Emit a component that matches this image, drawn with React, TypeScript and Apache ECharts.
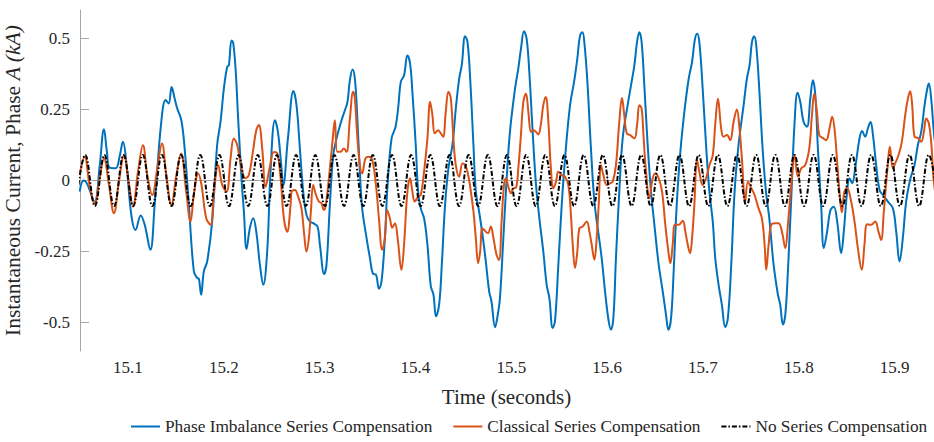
import React, { useEffect, useRef } from "react";
import * as echarts from "echarts";

const xTicks = [15.1, 15.2, 15.3, 15.4, 15.5, 15.6, 15.7, 15.8, 15.9];
const yTicks = [-0.5, -0.25, 0, 0.25, 0.5];

const seriesNames = [
  "Phase Imbalance Series Compensation",
  "Classical Series Compensation",
  "No Series Compensation",
];

const phaseImbalance: [number, number][] = [
  [15.0496, -0.039], [15.0538, 0.0], [15.0572, -0.01], [15.0652, -0.075], [15.0705, 0.05],
  [15.075, 0.18], [15.0781, 0.1], [15.0809, 0.045], [15.0872, 0.043], [15.0913, 0.084],
  [15.0948, 0.136], [15.0983, 0.066], [15.1035, -0.12], [15.108, -0.174], [15.1133, -0.123],
  [15.1175, -0.156], [15.1234, -0.244], [15.1279, -0.086], [15.1348, 0.206], [15.1394, 0.283],
  [15.1425, 0.271], [15.1456, 0.329], [15.1488, 0.288], [15.1515, 0.253], [15.1557, 0.212],
  [15.159, 0.12], [15.1636, -0.086], [15.1688, -0.32], [15.1723, -0.343], [15.174, -0.346],
  [15.1764, -0.402], [15.1792, -0.32], [15.1827, -0.285], [15.1879, -0.144], [15.1931, 0.125],
  [15.1966, 0.206], [15.2001, 0.323], [15.2036, 0.4], [15.2053, 0.405], [15.2081, 0.493],
  [15.2098, 0.485], [15.2123, 0.394], [15.215, 0.218], [15.2185, 0.008], [15.221, -0.109],
  [15.2238, -0.241], [15.2272, -0.168], [15.2307, -0.133], [15.2339, -0.18], [15.2377, -0.296],
  [15.2412, -0.367], [15.2453, -0.25], [15.2488, 0.031], [15.2534, 0.212], [15.2565, 0.171],
  [15.26, 0.054], [15.262, -0.016], [15.267, 0.15], [15.2727, 0.315], [15.2759, 0.265],
  [15.2794, 0.113], [15.2829, -0.039], [15.2863, -0.121], [15.2898, -0.144], [15.2933, -0.15],
  [15.2978, -0.162], [15.3003, -0.226], [15.3048, -0.329], [15.3072, -0.296], [15.3107, -0.086],
  [15.3142, 0.089], [15.3177, 0.148], [15.3229, 0.212], [15.3264, 0.247], [15.3291, 0.277],
  [15.3316, 0.353], [15.3344, 0.391], [15.3368, 0.358], [15.3392, 0.23], [15.342, 0.031],
  [15.3444, -0.098], [15.3479, -0.18], [15.3525, -0.273], [15.3559, -0.329], [15.3587, -0.331],
  [15.3619, -0.381], [15.3646, -0.355], [15.3681, -0.203], [15.3709, -0.016], [15.3751, 0.148],
  [15.3793, 0.19], [15.3821, 0.26], [15.3847, 0.347], [15.3881, 0.37], [15.3916, 0.44],
  [15.3944, 0.411], [15.3968, 0.312], [15.4003, 0.125], [15.4028, -0.039], [15.4055, -0.098],
  [15.409, -0.133], [15.4125, -0.226], [15.416, -0.372], [15.4188, -0.402], [15.4215, -0.478],
  [15.4247, -0.437], [15.4275, -0.296], [15.4309, -0.086], [15.4344, 0.043], [15.4386, 0.125],
  [15.4421, 0.253], [15.4456, 0.358], [15.4483, 0.405], [15.4518, 0.508], [15.4543, 0.487],
  [15.4571, 0.358], [15.4605, 0.125], [15.463, -0.039], [15.4664, -0.109], [15.4699, -0.19],
  [15.4734, -0.285], [15.4769, -0.39], [15.4793, -0.425], [15.4831, -0.516], [15.486, -0.47],
  [15.4882, -0.413], [15.4917, -0.203], [15.4952, 0.008], [15.4986, 0.171], [15.5039, 0.323],
  [15.5073, 0.394], [15.5101, 0.464], [15.5133, 0.525], [15.516, 0.499], [15.5188, 0.382],
  [15.5223, 0.171], [15.5258, -0.016], [15.5293, -0.133], [15.5334, -0.25], [15.5369, -0.367],
  [15.5397, -0.413], [15.5432, -0.519], [15.5456, -0.495], [15.5491, -0.296], [15.5526, -0.086],
  [15.5561, 0.078], [15.5613, 0.265], [15.5655, 0.347], [15.5689, 0.429], [15.5717, 0.51],
  [15.5742, 0.522], [15.5762, 0.487], [15.5794, 0.347], [15.5829, 0.125], [15.5867, -0.074],
  [15.5902, -0.168], [15.5943, -0.273], [15.5978, -0.39], [15.6016, -0.495], [15.604, -0.525],
  [15.6065, -0.484], [15.6092, -0.273], [15.6127, -0.039], [15.6162, 0.148], [15.6214, 0.265],
  [15.6249, 0.335], [15.6284, 0.405], [15.6312, 0.487], [15.6336, 0.522], [15.636, 0.487],
  [15.6388, 0.335], [15.6423, 0.125], [15.6458, -0.039], [15.6493, -0.156], [15.6538, -0.296],
  [15.658, -0.39], [15.6614, -0.472], [15.6639, -0.525], [15.6667, -0.484], [15.6694, -0.32],
  [15.6726, -0.086], [15.6761, 0.089], [15.6806, 0.242], [15.6851, 0.358], [15.6886, 0.417],
  [15.6914, 0.493], [15.6938, 0.516], [15.6962, 0.487], [15.6997, 0.323], [15.7032, 0.125],
  [15.7067, -0.039], [15.7102, -0.144], [15.7128, -0.273], [15.7163, -0.367], [15.7197, -0.437],
  [15.7232, -0.516], [15.726, -0.484], [15.7295, -0.296], [15.733, -0.039], [15.7371, 0.125],
  [15.7424, 0.265], [15.7458, 0.358], [15.7486, 0.405], [15.7511, 0.487], [15.7535, 0.508],
  [15.7556, 0.475], [15.7587, 0.323], [15.7622, 0.113], [15.7657, -0.039], [15.7692, -0.133],
  [15.7737, -0.296], [15.7782, -0.402], [15.7806, -0.437], [15.7834, -0.507], [15.7859, -0.472],
  [15.7886, -0.32], [15.7921, -0.063], [15.7956, 0.206], [15.7987, 0.309], [15.8015, 0.277],
  [15.805, 0.206], [15.8085, 0.189], [15.812, 0.288], [15.8147, 0.353], [15.8172, 0.3],
  [15.8198, 0.12], [15.8233, -0.086], [15.8261, -0.238], [15.8295, -0.18], [15.833, -0.104],
  [15.8365, -0.092], [15.84, -0.144], [15.8442, -0.256], [15.8469, -0.18], [15.8504, -0.039],
  [15.8529, 0.008], [15.8556, -0.01], [15.8588, 0.043], [15.8633, 0.148], [15.8661, 0.174],
  [15.8692, 0.154], [15.872, 0.183], [15.8748, 0.206], [15.8772, 0.165], [15.8807, 0.054],
  [15.8842, -0.033], [15.8877, -0.051], [15.8929, -0.074], [15.8981, -0.098], [15.9016, -0.18],
  [15.9051, -0.285], [15.9085, -0.203], [15.912, -0.074], [15.9165, 0.008], [15.9207, 0.054],
  [15.9242, 0.125], [15.9277, 0.171], [15.9312, 0.265], [15.934, 0.323], [15.9357, 0.341],
  [15.9381, 0.288], [15.9409, 0.171], [15.945, 0.05],
];

const classical: [number, number][] = [
  [15.0496, 0.02], [15.0548, 0.084], [15.06, -0.016], [15.0652, -0.082], [15.0705, 0.008],
  [15.075, 0.078], [15.0802, -0.016], [15.0854, -0.115], [15.0906, -0.004], [15.0959, 0.089],
  [15.1007, -0.004], [15.1053, -0.092], [15.1105, 0.031], [15.1157, 0.124], [15.1202, 0.019],
  [15.1254, -0.051], [15.1307, 0.043], [15.1355, 0.13], [15.1401, 0.019], [15.1453, -0.086],
  [15.1505, 0.019], [15.1554, 0.095], [15.1608, -0.039], [15.1653, -0.144], [15.1688, -0.051],
  [15.1733, 0.025], [15.1768, -0.016], [15.1817, -0.133], [15.1862, -0.156], [15.1897, -0.039],
  [15.1942, 0.054], [15.1984, -0.016], [15.2029, -0.039], [15.2071, 0.078], [15.2105, 0.148],
  [15.214, 0.125], [15.2185, 0.043], [15.2227, 0.008], [15.2262, 0.019], [15.2304, 0.101],
  [15.2339, 0.177], [15.2366, 0.195], [15.2401, 0.113], [15.2436, -0.022], [15.2478, 0.043],
  [15.2523, 0.1], [15.2558, 0.096], [15.2593, 0.008], [15.2627, -0.133], [15.2662, -0.18],
  [15.2697, -0.086], [15.2707, -0.039], [15.2742, -0.033], [15.2776, -0.057], [15.2811, -0.098],
  [15.2839, -0.19], [15.2863, -0.25], [15.2888, -0.203], [15.2909, -0.109], [15.2933, -0.016],
  [15.2957, -0.045], [15.2992, -0.074], [15.302, -0.08], [15.3044, -0.104], [15.3065, -0.086],
  [15.3097, 0.008], [15.3131, 0.125], [15.3159, 0.212], [15.3184, 0.101], [15.3218, 0.101],
  [15.3253, 0.113], [15.3281, 0.101], [15.3316, 0.218], [15.335, 0.312], [15.3368, 0.288],
  [15.3392, 0.16], [15.342, 0.054], [15.3444, 0.025], [15.3479, 0.078], [15.3514, 0.084],
  [15.3549, 0.072], [15.3584, -0.004], [15.3619, -0.133], [15.3653, -0.244], [15.3681, -0.203],
  [15.3705, -0.104], [15.3733, -0.133], [15.3758, -0.166], [15.3786, -0.15], [15.3814, -0.203],
  [15.3854, -0.314], [15.3881, -0.226], [15.3916, -0.039], [15.3944, 0.008], [15.3968, -0.039],
  [15.3993, -0.074], [15.4028, -0.057], [15.4055, -0.051], [15.409, 0.031], [15.4125, 0.148],
  [15.4153, 0.277], [15.4177, 0.23], [15.4202, 0.166], [15.4236, 0.177], [15.4264, 0.166],
  [15.4289, 0.154], [15.4316, 0.241], [15.4344, 0.312], [15.4369, 0.288], [15.4396, 0.148],
  [15.4421, 0.054], [15.4456, 0.013], [15.4491, 0.06], [15.4518, 0.054], [15.4543, 0.031],
  [15.4571, -0.022], [15.4605, -0.109], [15.463, -0.203], [15.4654, -0.291], [15.4675, -0.25],
  [15.4699, -0.168], [15.4734, -0.18], [15.4758, -0.185], [15.4786, -0.162], [15.4814, -0.203],
  [15.4845, -0.26], [15.4872, -0.28], [15.4899, -0.144], [15.4924, -0.016], [15.4945, 0.008],
  [15.4969, -0.022], [15.4997, -0.045], [15.5021, -0.027], [15.5049, -0.025], [15.5073, 0.043],
  [15.5098, 0.148], [15.5126, 0.277], [15.5153, 0.306], [15.5178, 0.242], [15.5206, 0.171],
  [15.523, 0.177], [15.5258, 0.171], [15.5282, 0.162], [15.5307, 0.195], [15.5334, 0.265],
  [15.5359, 0.294], [15.5387, 0.206], [15.5411, 0.054], [15.5439, -0.027], [15.5467, -0.004],
  [15.5491, 0.031], [15.5526, 0.019], [15.5561, 0.013], [15.5595, -0.016], [15.562, -0.109],
  [15.5641, -0.226], [15.5665, -0.308], [15.5689, -0.25], [15.571, -0.168], [15.5745, -0.162],
  [15.5787, -0.144], [15.5815, -0.18], [15.5839, -0.226], [15.5867, -0.279], [15.5891, -0.203],
  [15.5912, -0.086], [15.5936, 0.054], [15.5961, 0.019], [15.5996, -0.016], [15.603, -0.01],
  [15.6058, -0.004], [15.6092, 0.054], [15.6127, 0.206], [15.6155, 0.29], [15.6179, 0.23],
  [15.6204, 0.166], [15.6239, 0.16], [15.6284, 0.148], [15.6312, 0.195], [15.6336, 0.265],
  [15.636, 0.253], [15.6381, 0.148], [15.6406, 0.031], [15.644, -0.063], [15.6475, 0.008],
  [15.6503, 0.025], [15.6538, 0.008], [15.6573, -0.039], [15.6607, -0.156], [15.6639, -0.25],
  [15.666, -0.291], [15.6684, -0.226], [15.6708, -0.156], [15.6747, -0.156], [15.6789, -0.142],
  [15.6816, -0.18], [15.6841, -0.226], [15.6865, -0.256], [15.6886, -0.203], [15.691, -0.086],
  [15.6938, 0.072], [15.6962, 0.031], [15.6997, -0.016], [15.7032, 0.008], [15.7067, 0.054],
  [15.7102, 0.089], [15.713, 0.206], [15.7156, 0.288], [15.719, 0.183], [15.7215, 0.154],
  [15.725, 0.16], [15.7284, 0.142], [15.7319, 0.206], [15.7354, 0.25], [15.7378, 0.195],
  [15.7406, 0.078], [15.7441, -0.074], [15.7469, -0.004], [15.7504, -0.027], [15.7538, -0.051],
  [15.758, -0.098], [15.7615, -0.133], [15.7643, -0.226], [15.766, -0.314], [15.7685, -0.226],
  [15.7712, -0.156], [15.7754, -0.15], [15.7789, -0.15], [15.7824, -0.18], [15.7859, -0.238],
  [15.7886, -0.156], [15.7921, -0.016], [15.7956, 0.089], [15.7991, 0.013], [15.8026, 0.043],
  [15.8067, 0.054], [15.8109, 0.113], [15.8137, 0.23], [15.8161, 0.306], [15.8189, 0.242],
  [15.8213, 0.16], [15.825, 0.15], [15.8285, 0.142], [15.832, 0.183], [15.8348, 0.224],
  [15.8372, 0.183], [15.84, 0.066], [15.8424, -0.039], [15.8449, -0.112], [15.8476, -0.039],
  [15.8504, -0.027], [15.8546, -0.074], [15.8581, -0.144], [15.8616, -0.238], [15.8657, -0.314],
  [15.8685, -0.226], [15.8713, -0.154], [15.8755, -0.156], [15.8797, -0.144], [15.8831, -0.18],
  [15.8859, -0.209], [15.8887, -0.109], [15.8922, 0.031], [15.895, 0.119], [15.8981, 0.043],
  [15.9005, 0.06], [15.904, 0.089], [15.9075, 0.136], [15.911, 0.23], [15.9138, 0.288],
  [15.9162, 0.314], [15.9183, 0.265], [15.9207, 0.154], [15.9242, 0.15], [15.9277, 0.136],
  [15.9305, 0.171], [15.9329, 0.218], [15.9357, 0.2], [15.9381, 0.136], [15.9409, -0.004],
  [15.945, -0.1],
];

// peaks and troughs of the uncompensated 50 Hz current
const noCompensation: [number, number][] = [
  [15.0455, -0.09], [15.0555, 0.09], [15.0655, -0.09], [15.0755, 0.09], [15.0855, -0.09],
  [15.0955, 0.09], [15.1055, -0.09], [15.1155, 0.09], [15.1255, -0.09], [15.1355, 0.09],
  [15.1455, -0.09], [15.1555, 0.09], [15.1655, -0.09], [15.1755, 0.09], [15.1855, -0.09],
  [15.1955, 0.09], [15.2055, -0.09], [15.2155, 0.09], [15.2255, -0.09], [15.2355, 0.09],
  [15.2455, -0.09], [15.2555, 0.09], [15.2655, -0.09], [15.2755, 0.09], [15.2855, -0.09],
  [15.2955, 0.09], [15.3055, -0.09], [15.3155, 0.09], [15.3255, -0.09], [15.3355, 0.09],
  [15.3455, -0.09], [15.3555, 0.09], [15.3655, -0.09], [15.3755, 0.09], [15.3855, -0.09],
  [15.3955, 0.09], [15.4055, -0.09], [15.4155, 0.09], [15.4255, -0.09], [15.4355, 0.09],
  [15.4455, -0.09], [15.4555, 0.09], [15.4655, -0.09], [15.4755, 0.09], [15.4855, -0.09],
  [15.4955, 0.09], [15.5055, -0.09], [15.5155, 0.09], [15.5255, -0.09], [15.5355, 0.09],
  [15.5455, -0.09], [15.5555, 0.09], [15.5655, -0.09], [15.5755, 0.09], [15.5855, -0.09],
  [15.5955, 0.09], [15.6055, -0.09], [15.6155, 0.09], [15.6255, -0.09], [15.6355, 0.09],
  [15.6455, -0.09], [15.6555, 0.09], [15.6655, -0.09], [15.6755, 0.09], [15.6855, -0.09],
  [15.6955, 0.09], [15.7055, -0.09], [15.7155, 0.09], [15.7255, -0.09], [15.7355, 0.09],
  [15.7455, -0.09], [15.7555, 0.09], [15.7655, -0.09], [15.7755, 0.09], [15.7855, -0.09],
  [15.7955, 0.09], [15.8055, -0.09], [15.8155, 0.09], [15.8255, -0.09], [15.8355, 0.09],
  [15.8455, -0.09], [15.8555, 0.09], [15.8655, -0.09], [15.8755, 0.09], [15.8855, -0.09],
  [15.8955, 0.09], [15.9055, -0.09], [15.9155, 0.09], [15.9255, -0.09], [15.9355, 0.09],
  [15.9455, -0.09],
];

const FONT = "'Liberation Serif', 'Times New Roman', serif";
const TEXT = "#262626";
const AXIS = "#a6a6a6";

const tickRich = { t: { fontFamily: FONT, fontSize: 17, color: TEXT } };

export default function App() {
  const ref = useRef<HTMLDivElement | null>(null);

  useEffect(() => {
    if (!ref.current) return;
    const chart = echarts.init(ref.current, undefined, { renderer: "svg" });
    chart.setOption({
      animation: false,
      textStyle: { fontFamily: FONT },
      grid: { left: 80, right: 1, top: 10, bottom: 91, outerBoundsMode: "none" },
      legend: {
        bottom: 2,
        left: 125,
        itemWidth: 29,
        itemHeight: 10,
        itemGap: 20,
        itemStyle: { opacity: 0 },
        formatter: (name: string) => `{l|${name}}`,
        textStyle: {
          fontFamily: FONT,
          fontSize: 17.3,
          color: TEXT,
          rich: { l: { fontFamily: FONT, fontSize: 17.3, color: TEXT } },
        },
        data: seriesNames,
      },
      xAxis: {
        type: "value",
        min: 15.05,
        max: 15.94,
        name: "Time (seconds)",
        nameLocation: "middle",
        nameGap: 35,
        nameTextStyle: { fontFamily: FONT, fontSize: 21, color: TEXT },
        axisLine: { show: true, lineStyle: { color: AXIS, width: 1 } },
        axisTick: { show: true, inside: true, length: 8, lineStyle: { color: AXIS }, customValues: xTicks },
        axisLabel: {
          fontFamily: FONT,
          fontSize: 17,
          color: TEXT,
          margin: 8,
          customValues: xTicks,
          formatter: (v: number) => `{t|${(Math.round(v * 10) / 10).toFixed(1)}}`,
          rich: tickRich,
        },
        splitLine: { show: false },
      },
      yAxis: {
        type: "value",
        min: -0.6,
        max: 0.6,
        name: "Instantaneous Current, Phase {it|A (kA)}",
        nameLocation: "middle",
        nameGap: 51,
        nameTextStyle: {
          fontFamily: FONT,
          fontSize: 21.5,
          color: TEXT,
          rich: { it: { fontFamily: FONT, fontSize: 21.5, fontStyle: "italic", color: TEXT } },
        },
        axisLine: { show: true, lineStyle: { color: AXIS, width: 1 } },
        axisTick: { show: true, inside: true, length: 9, lineStyle: { color: AXIS }, customValues: yTicks },
        axisLabel: {
          fontFamily: FONT,
          fontSize: 17,
          color: TEXT,
          margin: 10,
          customValues: yTicks,
          formatter: (v: number) => `{t|${Math.round(v * 100) / 100}}`,
          rich: tickRich,
        },
        splitLine: { show: false },
      },
      series: [
        {
          name: seriesNames[0],
          type: "line",
          data: phaseImbalance,
          symbol: "none",
          smooth: 0.4,
          clip: true,
          lineStyle: { color: "#0072BD", width: 2 },
          itemStyle: { color: "#0072BD" },
          z: 2,
        },
        {
          name: seriesNames[1],
          type: "line",
          data: classical,
          symbol: "none",
          smooth: 0.4,
          clip: true,
          lineStyle: { color: "#D95319", width: 2 },
          itemStyle: { color: "#D95319" },
          z: 3,
        },
        {
          name: seriesNames[2],
          type: "line",
          data: noCompensation,
          symbol: "none",
          smooth: 0.4,
          clip: true,
          lineStyle: { color: "#000000", width: 2, type: [5, 2, 1.5, 2] },
          itemStyle: { color: "#000000" },
          z: 4,
        },
      ],
    });
    return () => chart.dispose();
  }, []);

  return (
    <div
      ref={ref}
      style={{ position: "fixed", left: 0, top: 0, width: 934, height: 442, background: "#fff" }}
    />
  );
}
